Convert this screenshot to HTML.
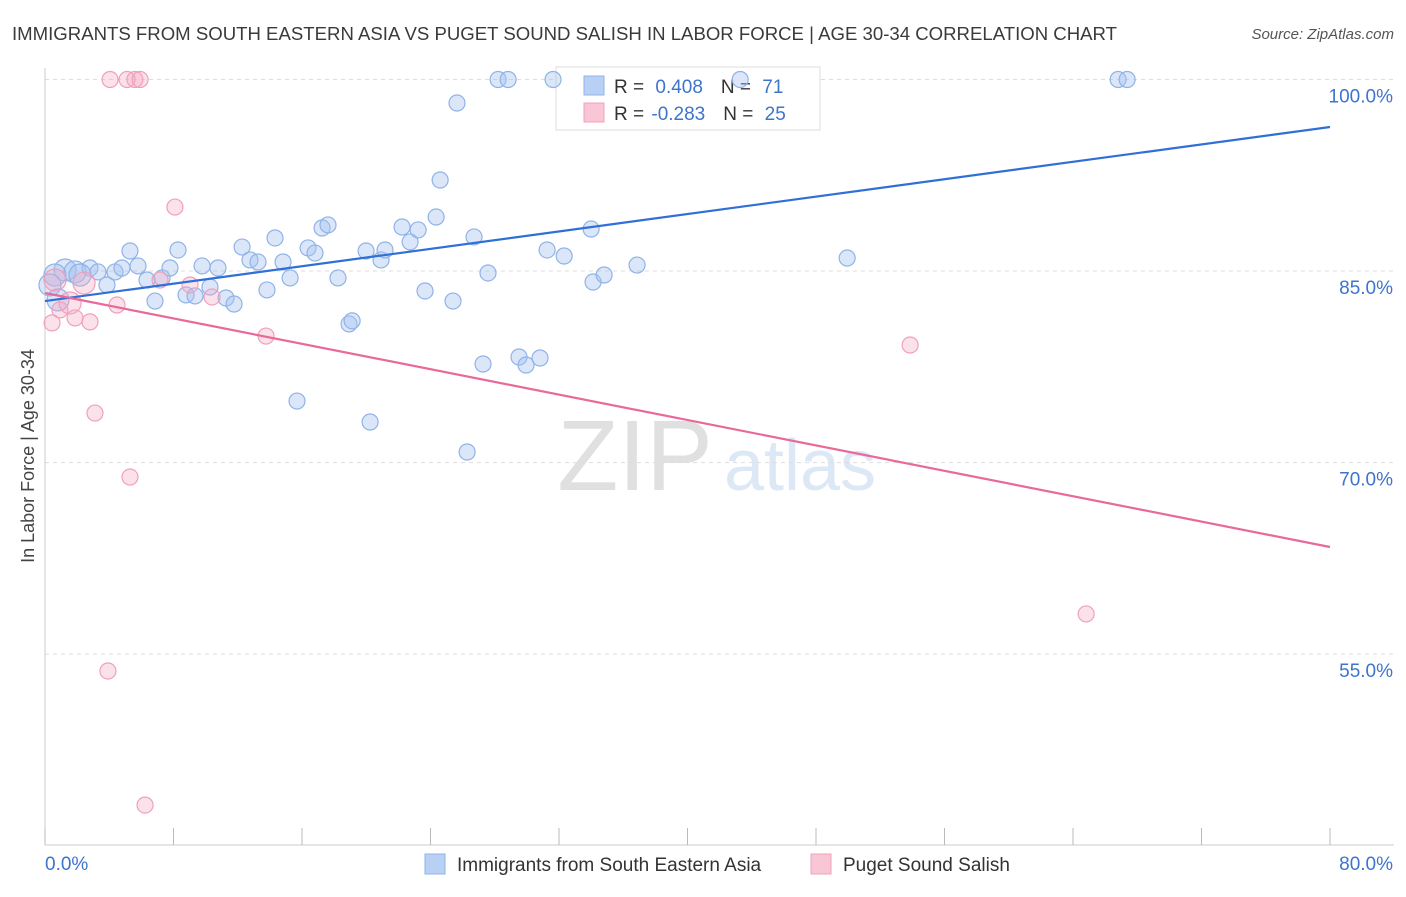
<!DOCTYPE html>
<html><head><meta charset="utf-8"><style>
body{margin:0;background:#fff;font-family:"Liberation Sans",sans-serif;}
svg text{font-family:"Liberation Sans",sans-serif;}
</style></head><body>
<svg id="chart" width="1406" height="892">
<text x="12" y="40" font-size="18" fill="#3a3a3a" textLength="1105" lengthAdjust="spacingAndGlyphs">IMMIGRANTS FROM SOUTH EASTERN ASIA VS PUGET SOUND SALISH IN LABOR FORCE | AGE 30-34 CORRELATION CHART</text>
<text x="1394" y="39" font-size="15" fill="#555" text-anchor="end" font-style="italic">Source: ZipAtlas.com</text>
<text x="34" y="456" font-size="18" fill="#444" text-anchor="middle" transform="rotate(-90 34 456)">In Labor Force | Age 30-34</text>
<g><text x="635" y="490" font-size="100" fill="#e0e0e0" text-anchor="middle" font-family="Liberation Serif">ZIP</text><text x="800" y="490" font-size="72" fill="#dde8f6" text-anchor="middle">atlas</text></g>
<g id="grid"></g><g id="axes"></g>
<g>
<rect x="556" y="67" width="264" height="63" fill="#fff" stroke="#ddd"/>
<rect x="584" y="76" width="20" height="19" fill="#b8d0f4" stroke="#8fb3e8"/>
<rect x="584" y="103" width="20" height="19" fill="#f9c6d6" stroke="#f0a0bc"/>
<text x="614" y="93" font-size="19" fill="#333">R = <tspan fill="#3d74cc" dx="6">0.408</tspan><tspan dx="18">N = </tspan><tspan fill="#3d74cc" dx="6">71</tspan></text>
<text x="614" y="120" font-size="19" fill="#333">R = <tspan fill="#3d74cc" dx="2">-0.283</tspan><tspan dx="18">N = </tspan><tspan fill="#3d74cc" dx="6">25</tspan></text>
</g>
<g id="pts"></g><g id="lines"></g>
<g>
<rect x="425" y="854" width="20" height="20" fill="#b8d0f4" stroke="#8fb3e8"/>
<text x="457" y="871" font-size="19" fill="#333">Immigrants from South Eastern Asia</text>
<rect x="811" y="854" width="20" height="20" fill="#f9c6d6" stroke="#f0a0bc"/>
<text x="843" y="871" font-size="19" fill="#333">Puget Sound Salish</text>
</g>
</svg>
<script>
const yTicks=[100,85,70,55];
const yTickLabels=["100.0%","85.0%","70.0%","55.0%"];
const xTickLabels=["0.0%","80.0%"];
const blueX=[1.25,0.62,0.31,0.81,1.87,2.80,2.18,3.30,3.86,4.36,4.79,5.29,5.79,6.35,6.85,7.29,7.78,8.28,8.78,9.34,9.78,10.27,10.77,11.27,11.77,12.27,12.76,13.26,13.82,14.32,14.82,15.26,15.69,16.38,16.81,17.25,17.62,18.24,18.93,19.12,19.99,20.24,20.92,21.17,22.23,22.73,23.23,23.66,24.35,24.60,25.40,25.65,26.28,26.71,27.27,27.58,28.21,28.83,29.51,29.95,30.82,31.26,31.63,32.32,34.00,34.12,34.81,36.86,43.28,49.94,66.81,67.37];
const blueY=[85.08,84.69,83.91,82.74,84.93,85.24,84.69,84.93,83.91,84.93,85.24,86.57,85.40,84.30,82.65,84.46,85.24,86.65,83.13,83.05,85.40,83.75,85.24,82.89,82.42,86.88,85.87,85.71,83.52,87.59,85.71,84.46,74.82,86.81,86.41,88.37,88.61,84.46,80.86,81.10,86.57,73.18,85.87,86.65,88.45,87.28,88.22,83.44,89.23,92.13,82.65,98.16,70.83,87.67,77.72,84.85,100,100,78.27,77.64,78.19,86.65,100,86.18,88.29,84.14,84.69,85.47,100,86.02,100,100];
const pinkX=[0.62,0.44,0.93,1.56,1.87,2.43,2.80,3.11,4.05,4.48,5.11,5.60,5.92,5.29,6.23,3.92,7.16,8.09,9.03,10.40,13.76,53.86,64.82];
const pinkY=[84.30,80.94,81.96,82.50,81.33,84.06,81.02,73.88,100,82.34,100,100,100,68.87,43.18,53.68,84.30,90.01,83.91,82.97,79.91,79.21,58.15];
const blueTrend=[82.65,96.28];
const pinkTrend=[83.28,63.39];
const NS="http://www.w3.org/2000/svg";
const X=v=>45+v*16.0625, Y=v=>79.5+(100-v)*12.77;
function mk(tag,attrs,parent){const e=document.createElementNS(NS,tag);for(const k in attrs)e.setAttribute(k,attrs[k]);document.getElementById(parent).appendChild(e);return e;}
yTicks.forEach((t,i)=>{
 const g=mk('line',{x1:45,x2:1394,y1:Y(t),y2:Y(t),stroke:'#ddd','stroke-dasharray':'4,4'},'grid');
 
 
 const l=mk('text',{x:1393,y:Y(t)+23,'font-size':19,fill:'#3d74cc','text-anchor':'end'},'grid');
 l.textContent=yTickLabels[i];
 
 
});
const ax=mk('line',{x1:45,x2:45,y1:68,y2:845,stroke:'#ccc'},'axes');


const bx=mk('line',{x1:45,x2:1394,y1:845,y2:845,stroke:'#ccc'},'axes');


for(let i=0;i<=10;i++){const t=mk('line',{x1:X(i*8),x2:X(i*8),y1:828,y2:845,stroke:'#bbb'},'axes');
 
 }
[[0,'start',45],[80,'end',1393]].forEach((d,i)=>{const l=mk('text',{x:d[2],y:870,'font-size':19,fill:'#3d74cc','text-anchor':d[1]},'axes');l.textContent=xTickLabels[i];
 
 });
function pts(xs,ys,fill,stroke,name){xs.forEach((x,i)=>{const r=(x<2.5&&ys[i]>82&&ys[i]<86)?11:8;
 const c=mk('circle',{cx:X(x),cy:Y(ys[i]),r:r,fill:fill,stroke:stroke,'stroke-width':1.2},'pts');
 
 });}
pts(blueX,blueY,'rgba(164,196,240,0.4)','#8fb3e8','blue-point');
pts(pinkX,pinkY,'rgba(244,170,195,0.35)','#f0a0bc','pink-point');
const bl=mk('line',{x1:X(0),y1:Y(blueTrend[0]),x2:X(80),y2:Y(blueTrend[1]),stroke:'#2f6fd6','stroke-width':2.2},'lines');


const pl=mk('line',{x1:X(0),y1:Y(pinkTrend[0]),x2:X(80),y2:Y(pinkTrend[1]),stroke:'#e8699a','stroke-width':2.2},'lines');


</script>
</body></html>
